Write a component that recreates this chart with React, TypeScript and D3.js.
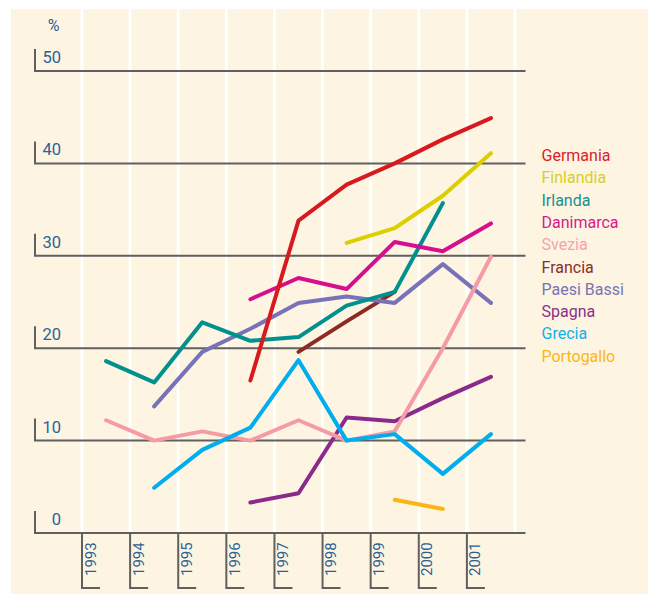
import React, { useRef, useEffect } from 'react';
import * as d3 from 'd3';

const years = ['1993', '1994', '1995', '1996', '1997', '1998', '1999', '2000', '2001'];
const yTicks = [0, 10, 20, 30, 40, 50];

type V = number | null;
const germania: V[] = [null, null, null, 16.5, 33.8, 37.7, 40.0, 42.6, 44.9];
const finlandia: V[] = [null, null, null, null, null, 31.4, 33.0, 36.5, 41.1];
const irlanda: V[] = [18.6, 16.3, 22.8, 20.8, 21.2, 24.6, 26.1, 35.7, null];
const danimarca: V[] = [null, null, null, 25.3, 27.6, 26.4, 31.5, 30.5, 33.5];
const svezia: V[] = [12.2, 10.0, 11.0, 10.0, 12.2, 10.0, 11.0, 20.0, 29.9];
const francia: V[] = [null, null, null, null, 19.6, 22.9, 26.1, null, null];
const paesiBassi: V[] = [null, 13.7, 19.6, 22.1, 24.9, 25.6, 24.9, 29.1, 24.9];
const spagna: V[] = [null, null, null, 3.3, 4.3, 12.5, 12.1, 14.6, 16.9];
const grecia: V[] = [null, 4.9, 9.0, 11.4, 18.7, 10.0, 10.7, 6.4, 10.7];
const portogallo: V[] = [null, null, null, null, null, null, 3.6, 2.6, null];

const countries = ['Germania', 'Finlandia', 'Irlanda', 'Danimarca', 'Svezia', 'Francia', 'Paesi Bassi', 'Spagna', 'Grecia', 'Portogallo'];
const seriesValues = [germania, finlandia, irlanda, danimarca, svezia, francia, paesiBassi, spagna, grecia, portogallo];
const lineColors = ['#d71920', '#dccf00', '#00908e', '#d80f8c', '#f59ba6', '#8c2b24', '#7a72b8', '#8a2b8b', '#00adef', '#fdb515'];
const labelColors = ['#d8232a', '#d9cf1a', '#17908f', '#d8198a', '#f5a3ad', '#8a2e2a', '#7b72b5', '#8b2f89', '#10b0ea', '#fbb51a'];
// drawing order, bottom first
const drawOrder = [9, 7, 5, 6, 2, 3, 4, 8, 1, 0];

const App = () => {
  const ref = useRef<SVGSVGElement>(null);

  useEffect(() => {
    const svg = d3.select(ref.current);
    svg.selectAll('*').remove();

    const axisColor = '#606060';
    const textColor = '#2b6296';
    const font = 'Roboto, sans-serif';

    const x = d3.scaleBand().domain(years).range([82, 515]);
    const y = d3.scaleLinear().domain([0, 50]).range([533, 71]);

    // cream panel
    svg.append('rect')
      .attr('x', 11).attr('y', 9)
      .attr('width', 637).attr('height', 585)
      .attr('fill', '#fdf5e2');

    // white column separators
    const seps = years.map(d => x(d)!).concat([x.range()[1]]);
    svg.selectAll('.sep')
      .data(seps)
      .enter().append('line')
      .attr('x1', d => d).attr('x2', d => d)
      .attr('y1', 9).attr('y2', y(0))
      .attr('stroke', '#fff')
      .attr('stroke-width', 3);

    // horizontal grid with left brackets
    const grid = svg.append('g');
    yTicks.forEach(t => {
      grid.append('path')
        .attr('d', `M35,${y(t) - 22}V${y(t)}H525.5`)
        .attr('fill', 'none')
        .attr('stroke', axisColor)
        .attr('stroke-width', 2);
      grid.append('text')
        .attr('x', 61)
        .attr('y', y(t) - 8)
        .attr('text-anchor', 'end')
        .attr('font-family', font)
        .attr('font-size', 16.5)
        .attr('fill', textColor)
        .text(t);
    });

    svg.append('text')
      .attr('x', 53.5).attr('y', 30.5)
      .attr('text-anchor', 'middle')
      .attr('font-family', font)
      .attr('font-size', 16)
      .attr('fill', textColor)
      .text('%');

    // year ticks
    years.forEach(yr => {
      const xx = x(yr)!;
      svg.append('path')
        .attr('d', `M${xx},${y(0)}V588H${xx + 18}`)
        .attr('fill', 'none')
        .attr('stroke', axisColor)
        .attr('stroke-width', 2);
      svg.append('text')
        .attr('transform', `translate(${xx + 13.5},576) rotate(-90)`)
        .attr('font-family', font)
        .attr('font-size', 15)
        .attr('fill', textColor)
        .text(yr);
    });

    // lines
    const line = d3.line<V>()
      .defined(d => d !== null)
      .x((d, i) => x(years[i])! + x.bandwidth() / 2)
      .y(d => y(d as number));

    drawOrder.forEach(i => {
      svg.append('path')
        .datum(seriesValues[i])
        .attr('d', line)
        .attr('fill', 'none')
        .attr('stroke', lineColors[i])
        .attr('stroke-width', 4)
        .attr('stroke-linecap', 'round')
        .attr('stroke-linejoin', 'round');
    });

    // legend
    svg.selectAll('.legend')
      .data(countries)
      .enter().append('text')
      .attr('x', 541.5)
      .attr('y', (d, i) => 161 + i * 22.3)
      .attr('font-family', font)
      .attr('font-size', 16)
      .attr('fill', (d, i) => labelColors[i])
      .text(d => d);
  }, []);

  return (
    <>
      <style>{`
body { margin: 0; }
svg { display: block; }
`}</style>
      <svg ref={ref} width={648} height={594} />
    </>
  );
};

export default App;
